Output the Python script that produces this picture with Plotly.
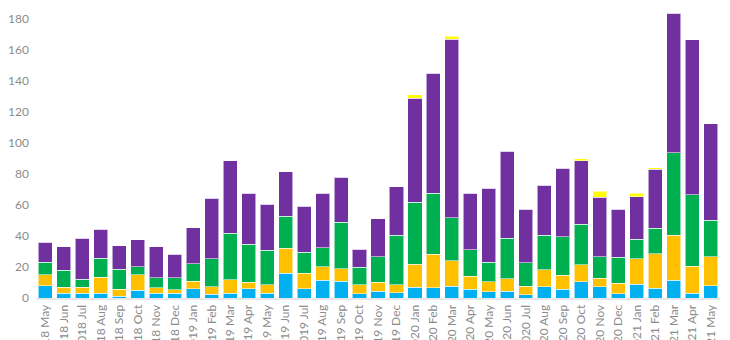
import plotly.graph_objects as go

months = ["2018 May", "2018 Jun", "2018 Jul", "2018 Aug", "2018 Sep", "2018 Oct", "2018 Nov", "2018 Dec",
          "2019 Jan", "2019 Feb", "2019 Mar", "2019 Apr", "2019 May", "2019 Jun", "2019 Jul", "2019 Aug",
          "2019 Sep", "2019 Oct", "2019 Nov", "2019 Dec", "2020 Jan", "2020 Feb", "2020 Mar", "2020 Apr",
          "2020 May", "2020 Jun", "2020 Jul", "2020 Aug", "2020 Sep", "2020 Oct", "2020 Nov", "2020 Dec",
          "2021 Jan", "2021 Feb", "2021 Mar", "2021 Apr", "2021 May"]

blue = [8, 3, 3, 3, 1, 5, 3, 3,
        6, 2.5, 3, 6, 3, 16, 6, 11.4,
        10.8, 2.8, 4.3, 3.4, 6.9, 6.5, 7.5, 5.6,
        4.1, 4.5, 2.2, 7.3, 5.6, 10.5, 7.3, 2.6,
        8.8, 6.2, 11.6, 3, 7.9]
yellow = [7, 4, 4, 10.5, 4.6, 10, 3.5, 2.4,
          4.8, 4.6, 8.8, 4.3, 5.4, 16.2, 10.1, 8.6,
          8.1, 5.8, 5.8, 5, 14.8, 21.7, 16.4, 8.4,
          6.4, 7.8, 5.3, 10.8, 9, 10.8, 5.4, 6.9,
          16.4, 22.4, 29, 17.4, 18.6]
green = [8, 11, 5, 12, 13, 5, 6.5, 7.7,
         11.4, 18.3, 30, 24.3, 22.4, 20.4, 13.4, 12.3,
         30.1, 11.2, 16.4, 32.1, 40, 39.3, 27.9, 17.2,
         12.5, 26.2, 15.1, 22.4, 24.9, 26.4, 13.8, 16.7,
         12.6, 16.4, 53.1, 46.2, 23.8]
purple = [13, 15, 26.5, 19, 15, 17.5, 20, 15,
          23, 39, 46.7, 33, 29.6, 29, 29.7, 35.2,
          28.9, 11.6, 24.5, 31.3, 67.1, 77.5, 115.1, 36.3,
          47.8, 56.1, 34.6, 32.2, 44.2, 40.7, 38.5, 31.2,
          27.6, 38.2, 90, 99.9, 62.2]
top_yellow = [0, 0, 0, 0, 0, 0, 0, 0,
              0, 0, 0, 0, 0, 0, 0, 0,
              0, 0, 0, 0, 2.4, 0, 2.1, 0,
              0, 0, 0, 0, 0, 1.3, 4, 0,
              2.1, 0.9, 0, 0, 0]

series = [
    ("Series 1", blue, "#00B0F0"),
    ("Series 2", yellow, "#FFC000"),
    ("Series 3", green, "#00B050"),
    ("Series 4", purple, "#7030A0"),
    ("Series 5", top_yellow, "#FFFF00"),
]

fig = go.Figure()
for name, vals, col in series:
    fig.add_trace(go.Bar(
        x=months, y=vals, name=name,
        marker=dict(color=col, line=dict(color="rgba(255,255,255,0.55)", width=1)),
    ))

fig.update_layout(
    barmode="stack",
    bargap=0.24,
    width=730, height=340,
    margin=dict(l=36, r=10, t=5, b=42, autoexpand=False),
    paper_bgcolor="white", plot_bgcolor="white",
    showlegend=False,
    font=dict(family="Lato, Open Sans, sans-serif", color="#8c8c8c", size=12),
)
fig.update_xaxes(
    tickangle=-90, automargin=False, showgrid=False,
    showline=True, linecolor="#e8e8e8", linewidth=2,
    tickfont=dict(size=12, color="#8c8c8c"),
    ticks="",
)
fig.update_yaxes(
    range=[0, 189], automargin=False, showgrid=False, zeroline=False,
    tickvals=[0, 20, 40, 60, 80, 100, 120, 140, 160, 180],
    tickfont=dict(size=12, color="#8c8c8c"),
    ticks="", ticklabelstandoff=6,
)
fig.write_html("out.html")
